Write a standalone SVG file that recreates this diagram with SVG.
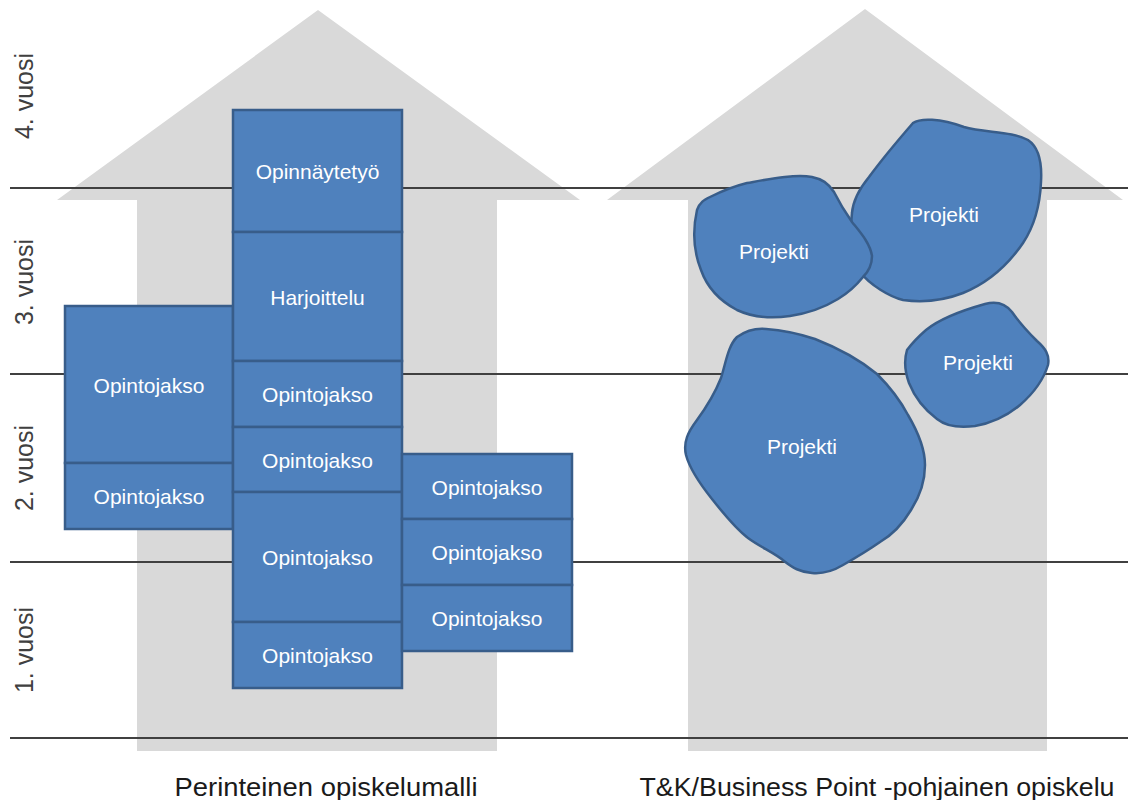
<svg xmlns="http://www.w3.org/2000/svg" width="1128" height="800" viewBox="0 0 1128 800">
<style>
.arrow{fill:#d9d9d9}
.grid{stroke:#404040;stroke-width:2;fill:none}
.box{fill:#4f81bd;stroke:#385d8a;stroke-width:2.5}
.lbl{font-family:"Liberation Sans",Arial,sans-serif;font-size:21px;fill:#ffffff;text-anchor:middle}
.year{font-family:"Liberation Sans",Arial,sans-serif;font-size:25px;fill:#404040;text-anchor:middle}
.cap{font-family:"Liberation Sans",Arial,sans-serif;font-size:26px;fill:#1a1a1a;text-anchor:middle}
</style>
<rect width="1128" height="800" fill="#ffffff"/>
<g id="arrows">
<polygon id="arrow-left" class="arrow" points="318,10 580,200 497,200 497,751 137,751 137,200 57,200"/>
<polygon id="arrow-right" class="arrow" points="865,9 1123,200 1047,200 1047,751 688,751 688,200 607,200"/>
</g>
<g id="gridlines">
<line class="grid" x1="10" y1="188" x2="1128" y2="188"/>
<line class="grid" x1="10" y1="374" x2="1128" y2="374"/>
<line class="grid" x1="10" y1="562" x2="1128" y2="562"/>
<line class="grid" x1="10" y1="738" x2="1128" y2="738"/>
</g>
<g id="years">
<text class="year" transform="translate(33,96) rotate(-90)">4. vuosi</text>
<text class="year" transform="translate(33,282) rotate(-90)">3. vuosi</text>
<text class="year" transform="translate(33,468) rotate(-90)">2. vuosi</text>
<text class="year" transform="translate(33,650) rotate(-90)">1. vuosi</text>
</g>
<g id="left-col">
<g id="l1"><rect class="box" x="65" y="306" width="168" height="157"/><text class="lbl" x="149" y="393">Opintojakso</text></g>
<g id="l2"><rect class="box" x="65" y="463" width="168" height="66"/><text class="lbl" x="149" y="504">Opintojakso</text></g>
</g>
<g id="mid-col">
<g id="m1"><rect class="box" x="233" y="110" width="169" height="122"/><text class="lbl" x="317.5" y="179">Opinnäytetyö</text></g>
<g id="m2"><rect class="box" x="233" y="232" width="169" height="129"/><text class="lbl" x="317.5" y="305">Harjoittelu</text></g>
<g id="m3"><rect class="box" x="233" y="361" width="169" height="66"/><text class="lbl" x="317.5" y="402">Opintojakso</text></g>
<g id="m4"><rect class="box" x="233" y="427" width="169" height="65"/><text class="lbl" x="317.5" y="468">Opintojakso</text></g>
<g id="m5"><rect class="box" x="233" y="492" width="169" height="130"/><text class="lbl" x="317.5" y="565">Opintojakso</text></g>
<g id="m6"><rect class="box" x="233" y="622" width="169" height="66"/><text class="lbl" x="317.5" y="663">Opintojakso</text></g>
</g>
<g id="right-col">
<g id="r1"><rect class="box" x="402" y="454" width="170" height="65"/><text class="lbl" x="487" y="495">Opintojakso</text></g>
<g id="r2"><rect class="box" x="402" y="519" width="170" height="66"/><text class="lbl" x="487" y="560">Opintojakso</text></g>
<g id="r3"><rect class="box" x="402" y="585" width="170" height="66"/><text class="lbl" x="487" y="626">Opintojakso</text></g>
</g>
<g id="projects">
<g id="p2"><path class="box" d="M913,123 C920,118 940,118 964,127 C985,133 1012,131 1028,140 C1040,148 1042,165 1041,182 C1040,205 1035,225 1023,243 C1010,262 990,282 963,293 C945,300 925,303 903,300 C890,297 870,285 860,272 C852,255 850,230 852,213 C853,200 860,188 869,177 C880,162 900,138 913,123 Z"/><text class="lbl" x="944" y="222">Projekti</text></g>
<g id="p1"><path class="box" d="M697,210 C700,202 704,200 710,197 C720,192 735,186 747,183 C770,179 795,174 812,177 C822,179 828,183 834,192 C840,204 845,212 852,222 C860,232 870,243 872,256 C872,266 868,272 863,277 C855,287 848,293 838,299 C825,307 810,313 790,316 C770,319 752,317 737,310 C722,302 708,290 701,270 C695,255 691,237 697,210 Z"/><text class="lbl" x="774" y="259">Projekti</text></g>
<g id="p3"><path class="box" d="M907,350 C913,342 918,337 926,330 C937,321 960,311 985,304 C996,301 1005,303 1012,312 C1019,322 1028,332 1037,341 C1045,348 1050,355 1048,365 C1044,378 1035,392 1020,405 C1008,415 992,423 975,426 C960,428 947,427 937,419 C925,410 915,398 909,383 C905,372 904,360 907,350 Z"/><text class="lbl" x="978" y="370">Projekti</text></g>
<g id="p4"><path class="box" d="M737,337 C747,330 755,328 766,329 C780,330 797,333 815,339 C838,348 860,360 877,374 C890,387 900,400 908,415 C918,432 925,450 925,465 C925,480 920,496 911,510 C902,525 892,535 880,542 C870,549 857,557 843,565 C833,571 822,574 812,573 C800,572 793,568 784,561 C775,553 760,547 748,538 C735,528 723,513 712,499 C700,484 690,470 686,455 C683,442 688,432 697,420 C708,405 715,393 721,378 C726,362 728,346 737,337 Z"/><text class="lbl" x="802" y="454">Projekti</text></g>
</g>
<g id="captions">
<text class="cap" x="326" y="796" textLength="303" lengthAdjust="spacingAndGlyphs">Perinteinen opiskelumalli</text>
<text class="cap" x="877" y="796" textLength="475" lengthAdjust="spacingAndGlyphs">T&amp;K/Business Point -pohjainen opiskelu</text>
</g>
</svg>
